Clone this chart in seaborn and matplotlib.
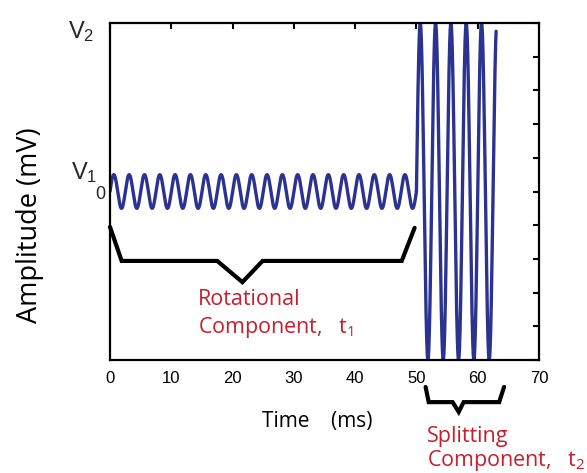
import numpy as np
import pandas as pd
import matplotlib
matplotlib.use("Agg")
import matplotlib.pyplot as plt
import seaborn as sns

# ---- data ----
segment_names = ["Rotational", "Splitting"]
segment_start_ms = [0.0, 50.0]
segment_end_ms = [50.0, 63.0]
segment_amplitude = [0.5, 5.0]
segment_period_ms = [2.5, 2.5]

x_ticks = [0, 10, 20, 30, 40, 50, 60, 70]
y_ticks = [-5, -4, -3, -2, -1, 0, 1, 2, 3, 4, 5]

# bracket annotation shapes (data coordinates)
rot_bracket_x = [0.0, 1.9, 17.5, 21.6, 24.9, 47.6, 49.7]
rot_bracket_y = [-1.05, -2.06, -2.06, -2.69, -2.06, -2.06, -1.08]
split_bracket_x = [51.5, 52.0, 55.9, 56.9, 57.7, 63.5, 64.3]
split_bracket_y = [-5.80, -6.25, -6.25, -6.54, -6.25, -6.25, -5.80]

sns.set_style("white")
plt.rcParams["font.family"] = ["Liberation Sans", "DejaVu Sans"]
plt.rcParams["mathtext.default"] = "regular"

fig = plt.figure(figsize=(5.87, 4.73), dpi=100)
ax = fig.add_axes([110 / 587, 1 - 360 / 473, 429 / 587, 337 / 473])

frames = []
for name, t0, t1, amp, per in zip(segment_names, segment_start_ms, segment_end_ms,
                                  segment_amplitude, segment_period_ms):
    t = np.linspace(t0, t1, int((t1 - t0) * 60) + 1)
    frames.append(pd.DataFrame({"time": t, "amp": amp * np.sin(2 * np.pi * t / per),
                                "component": name}))
df = pd.concat(frames, ignore_index=True)

sns.lineplot(data=df, x="time", y="amp", color="#2b3290", lw=2.4, ax=ax,
             sort=False, estimator=None)

ax.set_xlim(0, 70)
ax.set_ylim(-5, 5)
ax.set_xticks(x_ticks)
ax.set_xticklabels([str(v) for v in x_ticks])
ax.set_yticks(y_ticks)
ax.set_yticklabels([])
ax.tick_params(axis="both", direction="in", length=4, width=1.5, top=True, right=True,
               colors="black", labelsize=12)
ax.tick_params(axis="x", pad=8)
for sp in ax.spines.values():
    sp.set_linewidth(1.6)
    sp.set_color("black")
ax.set_xlabel("")
ax.set_ylabel("")

# y labels
ax.text(-2.6, 4.75, "V$_2$", ha="right", va="center", fontsize=17, clip_on=False)
ax.text(-2.0, 0.55, "V$_1$", ha="right", va="center", fontsize=17, clip_on=False)
ax.text(-0.7, -0.1, "0", ha="right", va="center", fontsize=13, clip_on=False)

# brackets
ax.plot(rot_bracket_x, rot_bracket_y, color="black", lw=3.0, solid_joinstyle="miter",
        clip_on=False)
ax.plot(split_bracket_x, split_bracket_y, color="black", lw=3.0, solid_joinstyle="miter",
        clip_on=False)

red = "#c4202f"
tf = ["Open Sans", "DejaVu Sans"]
fig.text(198 / 587, 1 - 305 / 473, "Rotational", color=red, fontsize=15.5, family=tf,
         ha="left", va="baseline")
fig.text(198 / 587, 1 - 333 / 473, "Component,   t$_1$", color=red, fontsize=15.5, family=tf,
         ha="left", va="baseline")
fig.text(427 / 587, 1 - 442 / 473, "Splitting", color=red, fontsize=15.5, family=tf,
         ha="left", va="baseline")
fig.text(427 / 587, 1 - 466 / 473, "Component,   t$_2$", color=red, fontsize=15.5, family=tf,
         ha="left", va="baseline")

fig.text(317 / 587, 1 - 427 / 473, "Time    (ms)", color="black", fontsize=15, family=tf,
         ha="center", va="baseline")
fig.text(30 / 587, 1 - 225 / 473, "Amplitude (mV)", color="black", fontsize=19.5, family=tf,
         ha="center", va="center", rotation=90)

fig.savefig("out.png", dpi=100)
